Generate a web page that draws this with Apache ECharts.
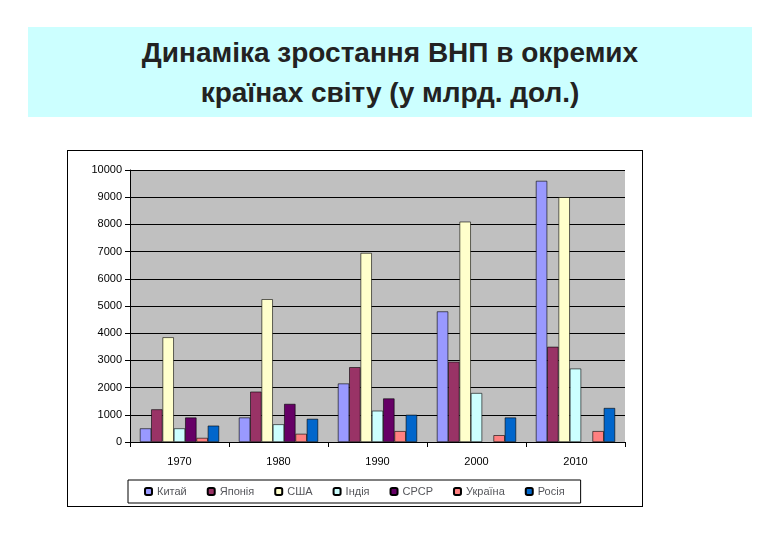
<!DOCTYPE html>
<html><head><meta charset="utf-8">
<script src="https://cdn.jsdelivr.net/npm/echarts@6/dist/echarts.min.js"></script>
<style>
body{margin:0;background:#fff;font-family:"Liberation Sans",Arial,sans-serif}
#title{position:absolute;left:28px;top:27px;width:724px;height:90px;background:#ccffff;text-align:center;font-weight:bold;font-size:28px;line-height:40px;padding-top:6px;box-sizing:border-box;color:#222}
#frame{position:absolute;left:67px;top:150px;width:576px;height:357px;border:1px solid #000;box-sizing:border-box}
#c{position:absolute;left:67px;top:150px;width:576px;height:357px}
</style></head><body>
<div id="title">Динаміка зростання ВНП в окремих<br>країнах світу (у млрд. дол.)</div>
<div id="frame"></div>
<div id="c"></div>
<script>
var years = ['1970', '1980', '1990', '2000', '2010']
var names = ['Китай', 'Японія', 'США', 'Індія', 'СРСР', 'Україна', 'Росія']
var china = [500, 900, 2150, 4800, 9600]
var japan = [1200, 1850, 2750, 2950, 3500]
var usa = [3850, 5250, 6950, 8100, 9000]
var india = [500, 650, 1150, 1800, 2700]
var ussr = [900, 1400, 1600, null, null]
var ukraine = [150, 300, 400, 250, 400]
var russia = [600, 850, 1000, 900, 1250]

var colors = ['#9999ff', '#993366', '#ffffcc', '#ccffff', '#660066', '#ff8080', '#0066cc']
var values = [china, japan, usa, india, ussr, ukraine, russia]

var myChart = echarts.init(document.getElementById('c'))
var option = {
	color: colors,
	textStyle: {fontFamily: 'Liberation Sans', color: '#000'},
	legend: {
		bottom: 4, left: 61, itemWidth: 7, itemHeight: 7, itemGap: 20,
		padding: [6, 16], borderColor: '#000', borderWidth: 1,
		textStyle: {fontSize: 11}, data: names
	},
	grid: {left: 63, right: 18, top: 20, bottom: 65, backgroundColor: '#c0c0c0', show: true, borderWidth: 0},
	xAxis: {
		type: 'category', data: years,
		axisLine: {lineStyle: {color: '#000'}},
		axisTick: {show: true, lineStyle: {color: '#000'}},
		axisLabel: {fontSize: 11, margin: 14, color: '#000'}
	},
	yAxis: {
		type: 'value', min: 0, max: 10000, interval: 1000,
		axisLine: {show: true, lineStyle: {color: '#000'}},
		axisTick: {show: true, lineStyle: {color: '#000'}},
		axisLabel: {fontSize: 11, color: '#000', formatter: function(v){ return String(v) }},
		splitLine: {lineStyle: {color: '#000'}}
	},
	series: names.map(function(n, i){
		return {
			name: n, type: 'bar', data: values[i], barGap: '0%', barCategoryGap: '20%',
			itemStyle: {borderColor: '#000', borderWidth: 0.6}
		}
	})
}
myChart.setOption(option)
</script>
</body></html>
